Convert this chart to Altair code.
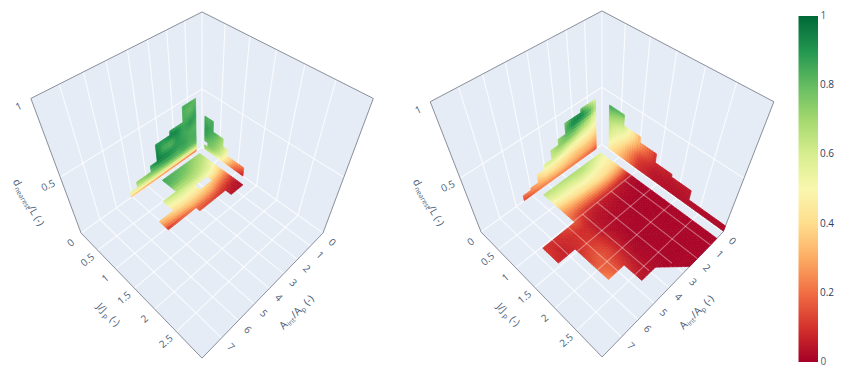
import math
import altair as alt

A_MAX = 8.1
J_MAX = 3.05
A_TICKS = [0, 1, 2, 3, 4, 5, 6, 7]
J_TICKS = [0, 0.5, 1, 1.5, 2, 2.5]
Z_TICKS = [0.5, 1]
CBAR_TICK_COUNT = 5
CBAR_ENDS = [0, 1]

# Left scene: floor (A, J)
LF_A = [.45, .9, 1.35, 1.8, 2.25, 2.7, 3.2, 3.65, 4.1, 4.6, 5.05]
LF_J = [.1, .3, .5, .65, .8, .95, 1.05, 1.15, 1.3]
LF_MASK = ["1111110000", "1111110000", "1111111100", "1100111100",
           "1111111111", "1111111111", "1111110000", "1100000000"]
LF_V = [
    [.68, .72, .76, .80, .82, .83, .85, .85, .85, .85, .85],
    [.62, .66, .70, .74, .77, .80, .82, .82, .80, .80, .80],
    [.50, .58, .62, .65, .66, .66, .66, .65, .62, .62, .62],
    [.40, .47, .50, .52, .53, .54, .55, .54, .52, .52, .50],
    [.28, .32, .36, .40, .42, .43, .43, .43, .41, .38, .35],
    [.15, .18, .22, .28, .30, .31, .32, .30, .28, .25, .22],
    [.08, .10, .13, .17, .20, .20, .20, .18, .15, .12, .08],
    [.04, .05, .08, .10, .12, .13, .15, .13, .10, .08, .06],
    [.03, .03, .04, .05, .06, .07, .08, .08, .06, .05, .05],
]

# Left scene: wall J = 0 (A, d)
LL_A = [.45, .9, 1.35, 1.8, 2.25, 2.7, 3.2, 3.65, 4.1, 4.6, 5.05]
LL_Z = [0, .015, .03, .05, .07, .10, .155, .23, .30, .335, .40, .46]
LL_MASK = ["1111111111", "1111111111", "1111111111", "1111111110",
           "1111111110", "1111111000", "1111110000", "1111110000",
           "1111000000", "1100000000", "1100000000"]
LL_V = [
    [.15, .17, .18, .19, .20, .21, .22, .24, .26, .28, .32],
    [.30, .32, .33, .34, .35, .36, .37, .38, .40, .42, .44],
    [.52, .52, .52, .52, .53, .54, .54, .54, .54, .52, .50],
    [.66, .66, .66, .66, .66, .66, .66, .64, .62, .60, .56],
    [.74, .74, .76, .76, .76, .76, .74, .72, .70, .68, .62],
    [.82, .82, .84, .82, .84, .84, .82, .80, .74, .72, .68],
    [.84, .84, .88, .88, .92, .94, .95, .88, .82, .80, .80],
    [.82, .84, .86, .90, .82, .84, .95, .92, .85, .80, .80],
    [.86, .90, .86, .94, .95, .90, .90, .85, .85, .80, .80],
    [.88, .86, .84, .85, .88, .85, .85, .85, .85, .80, .80],
    [.84, .80, .84, .82, .80, .80, .80, .80, .80, .80, .80],
    [.80, .84, .84, .80, .80, .80, .80, .80, .80, .80, .80],
]

# Left scene: wall A = 0 (J, d)
LR_J = [.08, .17, .31, .45, .58, .72, .9, 1.15]
LR_Z = [0, .02, .04, .08, .14, .21, .30]
LR_MASK = ["1111111", "1111111", "0111111", "1111100", "1111000", "1100000"]
LR_V = [
    [.66, .64, .60, .52, .42, .30, .18, .06],
    [.72, .70, .66, .58, .48, .34, .20, .08],
    [.76, .76, .72, .64, .54, .40, .24, .12],
    [.80, .80, .76, .70, .60, .45, .30, .20],
    [.88, .85, .80, .74, .66, .55, .35, .25],
    [.88, .88, .85, .80, .70, .55, .40, .30],
    [.84, .82, .85, .82, .70, .55, .40, .30],
]

# Right scene: floor (A, J)
RF_A = [.5, 1, 1.5, 2, 2.55, 3.1, 3.67, 4.1, 4.58, 5.1, 5.58, 6.1, 6.6]
RF_J = [.15, .3, .45, .6, .75, .9, 1.03, 1.23, 1.44, 1.85, 2.25, 2.65, 3.05]
RF_MASK = ["111111110000"] * 6 + ["111111111111"] * 2 + ["111111111100"] * 2 + \
          ["111111110000"] + ["111111000000"]
RF_V = [
    [.55, .62, .65, .68, .68, .68, .66, .66, .66, .66, .66, .66, .66],
    [.50, .52, .58, .62, .62, .60, .60, .60, .58, .58, .58, .58, .58],
    [.46, .47, .48, .50, .52, .50, .50, .50, .48, .48, .48, .48, .48],
    [.38, .40, .42, .44, .42, .42, .40, .38, .36, .36, .36, .36, .36],
    [.25, .28, .30, .30, .30, .28, .27, .27, .26, .26, .26, .26, .26],
    [.10, .12, .14, .15, .15, .15, .15, .16, .20, .20, .20, .20, .20],
    [.03, .03, .04, .05, .05, .06, .07, .10, .16, .13, .10, .09, .10],
    [.01, .01, .02, .02, .03, .03, .04, .06, .09, .09, .08, .07, .10],
    [.01, .01, .01, .01, .02, .02, .03, .05, .09, .10, .08, .06, .08],
    [.01, .01, .01, .01, .01, .01, .03, .07, .13, .17, .14, .08, .08],
    [.01, .01, .01, .01, .01, .01, .02, .05, .10, .17, .24, .08, .08],
    [.01, .01, .01, .01, .01, .01, .02, .03, .04, .08, .08, .08, .08],
    [.01, .01, .01, .01, .01, .01, .01, .02, .03, .03, .03, .03, .03],
]
RF_CUT = (3.67, 2.65, 2.56, 3.05)

# Right scene: wall J = 0 (A, d)
RL_A = [.45, .95, 1.45, 2, 2.5, 3, 3.5, 4, 4.5, 5, 5.5]
RL_Z = [0, .02, .05, .07, .10, .145, .19, .24, .27, .32, .37, .41, .44]
RL_MASK = ["1111111111", "1111111111", "1111111110", "1111111100",
           "1111111100", "1111111000", "1111110000", "1111110000",
           "1111100000", "1111000000", "1111000000", "1100000000"]
RL_V = [
    [.15, .18, .19, .20, .21, .22, .22, .22, .20, .15, .12],
    [.18, .21, .23, .25, .26, .27, .27, .26, .24, .20, .16],
    [.24, .27, .28, .30, .31, .33, .33, .32, .28, .25, .20],
    [.27, .30, .32, .33, .35, .37, .37, .36, .32, .25, .20],
    [.30, .33, .34, .35, .38, .40, .42, .42, .35, .25, .20],
    [.36, .40, .42, .43, .45, .48, .50, .50, .42, .30, .20],
    [.42, .46, .48, .50, .55, .60, .62, .60, .45, .30, .20],
    [.48, .55, .58, .65, .68, .70, .65, .60, .45, .30, .20],
    [.52, .60, .65, .72, .76, .74, .65, .60, .45, .30, .20],
    [.55, .68, .76, .84, .82, .70, .65, .60, .45, .30, .20],
    [.65, .85, .92, .94, .82, .70, .65, .60, .45, .30, .20],
    [.62, .78, .92, .90, .75, .70, .65, .60, .45, .30, .20],
    [.56, .68, .80, .80, .70, .70, .65, .60, .45, .30, .20],
]

# Right scene: wall A = 0 (J, d)
RR_J = [.2, .58, 1, 1.4, 1.8, 2.25, 2.65, 3.05]
RR_Z = [.01, .065, .11, .155, .18, .26, .31, .35, .40]
RR_MASK = ["1111111", "1111100", "1111100", "1111000",
           "1110000", "1100000", "1000000", "1000000"]
RR_V = [
    [.46, .30, .09, .04, .03, .03, .02, .02],
    [.50, .33, .10, .04, .03, .03, .02, .02],
    [.56, .37, .12, .05, .04, .04, .03, .03],
    [.60, .42, .16, .07, .05, .05, .03, .03],
    [.62, .46, .20, .08, .06, .05, .03, .03],
    [.66, .56, .30, .10, .08, .06, .03, .03],
    [.72, .63, .30, .12, .08, .06, .03, .03],
    [.78, .68, .30, .12, .08, .06, .03, .03],
    [.86, .80, .30, .12, .08, .06, .03, .03],
]

# ---------- camera of each scene (perspective map of the plot cube) ----------
CAM_L = dict(g=-.156, k=-.2477, n=(202, 147), a=(-133.6, 49.7), b=(70.6, 49.7), c=(-50, -138), dx=0)
CAM_R = dict(g=-.15, k=-.2514, n=(202, 144.5), a=(-133.1, 52.7), b=(72.6, 52.7), c=(-50.8, -136.3), dx=400)


def pt(cam, A, J, z):
    u, v = A / A_MAX, J / J_MAX
    w = 1 + cam["g"] * (u + v) + cam["k"] * z
    x = (cam["n"][0] + cam["a"][0] * u + cam["b"][0] * v + cam["c"][0] * z) / w + cam["dx"]
    y = (cam["n"][1] + cam["a"][1] * u + cam["b"][1] * v + cam["c"][1] * z) / w
    return [round(x, 2), round(y, 2)]


def line(cam, p, q):
    return {"type": "Feature", "geometry": {"type": "LineString",
            "coordinates": [pt(cam, *p), pt(cam, *q)]}}


def clip(poly, cut):
    a0, b0, a1, b1 = cut
    f = lambda p: (p[0] - a0) * (b1 - b0) + (p[1] - b0) * (a0 - a1)
    out = []
    for i, p in enumerate(poly):
        q = poly[(i + 1) % len(poly)]
        fp, fq = f(p), f(q)
        if fp <= 0:
            out.append(p)
        if fp * fq < 0:
            r = fp / (fp - fq)
            out.append((p[0] + r * (q[0] - p[0]), p[1] + r * (q[1] - p[1])))
    return out


def surface(cam, plane, n1, n2, vals, mask, cut=None):
    to3d = {"floor": lambda a, b: (a, b, 0), "left": lambda a, b: (a, 0, b),
            "right": lambda a, b: (0, a, b)}[plane]
    feats = []
    for r, row in enumerate(mask):
        for c, on in enumerate(row):
            if on != "1":
                continue
            p00 = pt(cam, *to3d(n1[c], n2[r]))
            p10 = pt(cam, *to3d(n1[c + 1], n2[r]))
            p01 = pt(cam, *to3d(n1[c], n2[r + 1]))
            nu = max(1, min(10, math.ceil(math.dist(p00, p10) / 3)))
            nv = max(1, min(10, math.ceil(math.dist(p00, p01) / 3)))
            for i in range(nu):
                for j in range(nv):
                    s0, s1 = i / nu, (i + 1) / nu
                    t0, t1 = j / nv, (j + 1) / nv
                    sm, tm = (s0 + s1) / 2, (t0 + t1) / 2
                    val = ((1 - sm) * (1 - tm) * vals[r][c] + sm * (1 - tm) * vals[r][c + 1]
                           + (1 - sm) * tm * vals[r + 1][c] + sm * tm * vals[r + 1][c + 1])
                    da = n1[c + 1] - n1[c]
                    db = n2[r + 1] - n2[r]
                    poly = [(n1[c] + s * da, n2[r] + t * db)
                            for s, t in ((s0, t0), (s1, t0), (s1, t1), (s0, t1))]
                    if cut and n2[r] >= cut[1] - 1e-6:
                        poly = clip(poly, cut)
                        if len(poly) < 3:
                            continue
                    ring = [pt(cam, *to3d(a, b)) for a, b in poly]
                    ring.append(ring[0])
                    feats.append({"type": "Feature", "v": round(val, 3),
                                  "geometry": {"type": "Polygon", "coordinates": [ring]}})
    return feats


walls, grid, edges, texts, titles, overlay = [], [], [], [], [], []
for cam in (CAM_L, CAM_R):
    A1, J1 = A_MAX, J_MAX
    corners = [[(0, 0, 0), (A1, 0, 0), (A1, J1, 0), (0, J1, 0)],
               [(0, 0, 0), (A1, 0, 0), (A1, 0, 1), (0, 0, 1)],
               [(0, 0, 0), (0, J1, 0), (0, J1, 1), (0, 0, 1)]]
    for face in corners:
        ring = [pt(cam, *p) for p in face]
        ring.append(ring[0])
        walls.append({"type": "Feature", "geometry": {"type": "Polygon", "coordinates": [ring]}})
    for a in A_TICKS:
        grid.append(line(cam, (a, 0, 0), (a, J1, 0)))
        grid.append(line(cam, (a, 0, 0), (a, 0, 1)))
    for j in J_TICKS:
        grid.append(line(cam, (0, j, 0), (A1, j, 0)))
        if j > 0:
            grid.append(line(cam, (0, j, 0), (0, j, 1)))
    grid.append(line(cam, (0, 0, .5), (A1, 0, .5)))
    grid.append(line(cam, (0, 0, .5), (0, J1, .5)))
    for p, q in [((A1, 0, 1), (0, 0, 1)), ((0, 0, 1), (0, J1, 1)), ((A1, 0, 1), (A1, 0, 0)),
                 ((0, J1, 1), (0, J1, 0)), ((A1, 0, 0), (A1, J1, 0)), ((A1, J1, 0), (0, J1, 0))]:
        edges.append(line(cam, p, q))
    for a in A_TICKS:
        x, y = pt(cam, a, J1, 0)
        texts.append(dict(x=x + 9, y=y + 9.5, t=str(a), a=45))
    for j in J_TICKS:
        x, y = pt(cam, A1, j, 0)
        texts.append(dict(x=x - 10, y=y + 10, t=str(j), a=320))
    for z in Z_TICKS:
        x, y = pt(cam, A1, 0, z)
        texts.append(dict(x=x - 12, y=y + 8.5, t=str(z), a=335))

    def tokens(x, y, ang, items):
        rad = math.radians(ang)
        for text, adv, sub in items:
            ox, oy = (-math.sin(rad) * 3, math.cos(rad) * 3) if sub else (0, 0)
            titles.append(dict(x=x + ox, y=y + oy, t=text, a=(ang + 360) % 360, s=7 if sub else 10.5))
            x += math.cos(rad) * adv
            y += math.sin(rad) * adv

    d = cam["dx"]
    tokens(15 + d, 180, 60, [("d", 7, False), ("nearest", 23.5, True), ("/L (-)", 0, False)])
    tokens(98 + d, 305, 45, [("J/J", 11, False), ("p", 7.5, True), ("(-)", 0, False)])
    tokens(281.5 + d, 328, 315, [("A", 7, False), ("int", 9, True), ("/A", 10.5, False),
                                 ("p", 7.5, True), ("(-)", 0, False)])

# colour bar: the two end labels sit centred on the ends of the bar
BAR_LEFT, BAR_TOP, BAR_LEN, BAR_W = 798.5, 16, 346, 19.5
for v in CBAR_ENDS:
    titles.append(dict(x=BAR_LEFT + BAR_W + 2.5, y=BAR_TOP + BAR_LEN * (1 - v), t=str(v), a=0, s=10))

# grid lines that show through the low part of the right floor
RF_LIMIT_A = {1: 3.05, 2: 3.05, 3: 2.8, 4: 2.62, 5: 2.25, 6: 1.44}
RF_LIMIT_J = {1: 4.58, 1.5: 5.58, 2: 5.58, 2.5: 4.58}
for a, top in RF_LIMIT_A.items():
    overlay.append(line(CAM_R, (a, 1, 0), (a, top, 0)))
for j, right in RF_LIMIT_J.items():
    overlay.append(line(CAM_R, (.5, j, 0), (right, j, 0)))

cells = (surface(CAM_L, "floor", LF_A, LF_J, LF_V, LF_MASK)
         + surface(CAM_L, "left", LL_A, LL_Z, LL_V, LL_MASK)
         + surface(CAM_L, "right", LR_J, LR_Z, LR_V, LR_MASK)
         + surface(CAM_R, "floor", RF_A, RF_J, RF_V, RF_MASK, RF_CUT)
         + surface(CAM_R, "left", RL_A, RL_Z, RL_V, RL_MASK)
         + surface(CAM_R, "right", RR_J, RR_Z, RR_V, RR_MASK))

# ---------- chart ----------
proj = dict(type="identity", scale=1, translate=[-8, -8])
FONT = "Open Sans"
TXT = "#2a3f5f"
scale = alt.Scale(domain=[0, 1], scheme="redyellowgreen")

wall_l = alt.Chart(alt.Data(values=walls)).mark_geoshape(fill="#E5ECF6", stroke="#E5ECF6", strokeWidth=.5).project(**proj)
grid_l = alt.Chart(alt.Data(values=grid)).mark_geoshape(filled=False, stroke="#ffffff", strokeWidth=1.2, strokeOpacity=.75).project(**proj)
edge_l = alt.Chart(alt.Data(values=edges)).mark_geoshape(filled=False, stroke="#8b909b", strokeWidth=1).project(**proj)
cell_data = alt.Data(values=cells)
seam_l = alt.Chart(cell_data).mark_geoshape(filled=False, strokeWidth=.7).encode(
    stroke=alt.Stroke("v:Q", scale=scale, legend=None)).project(**proj)
surf_l = alt.Chart(cell_data).mark_geoshape(stroke=None, strokeWidth=0).encode(
    fill=alt.Fill("v:Q", scale=scale, legend=alt.Legend(
        title=None, orient="none", legendX=BAR_LEFT - 8, legendY=BAR_TOP - 8, gradientLength=BAR_LEN,
        gradientThickness=BAR_W, tickCount=CBAR_TICK_COUNT, labelFont=FONT, labelFontSize=10,
        labelColor=TXT, labelOffset=2, labelOverlap=False, labelBaseline="middle",
        labelExpr="datum.value <= 0 || datum.value >= 1 ? '' : datum.label",
        gradientStrokeWidth=0, direction="vertical", format="~g")),
).project(**proj)
over_l = alt.Chart(alt.Data(values=overlay)).mark_geoshape(filled=False, stroke="#ffffff", strokeWidth=1.1, strokeOpacity=.36).project(**proj)
tick_l = alt.Chart(alt.Data(values=texts)).mark_text(font=FONT, fontSize=10, color=TXT, opacity=.85).encode(
    longitude="x:Q", latitude="y:Q", text="t:N", angle=alt.Angle("a:Q", scale=None)).project(**proj)
titl_l = alt.Chart(alt.Data(values=titles)).mark_text(font=FONT, color=TXT, align="left", baseline="middle", opacity=.85).encode(
    longitude="x:Q", latitude="y:Q", text="t:N", angle=alt.Angle("a:Q", scale=None),
    size=alt.Size("s:Q", scale=None, legend=None)).project(**proj)

chart = alt.layer(wall_l, grid_l, edge_l, seam_l, surf_l, over_l, tick_l, titl_l).resolve_scale(
    fill="independent", stroke="independent").properties(
    width=834, height=361, padding=0,
    autosize=alt.AutoSizeParams(type="none", contains="padding"),
    background="white",
).configure_view(strokeWidth=0)

chart.save("out.html", embed_options={"renderer": "svg", "actions": False})
